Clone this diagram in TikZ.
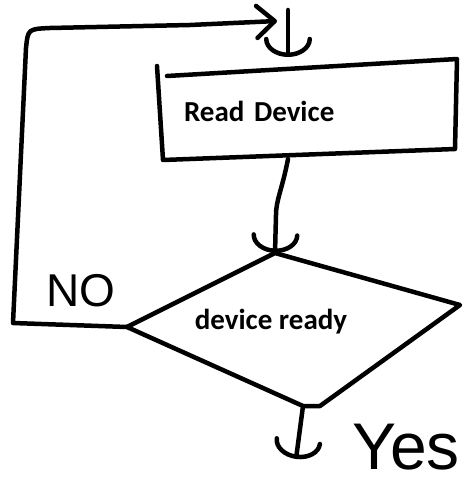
\documentclass[tikz,border=0pt]{standalone}
\usepackage{fontspec}
\setmainfont{Carlito}
\newfontfamily\handfont{Liberation Sans}
\usetikzlibrary{arrows.meta,calc}
\begin{document}
\begin{tikzpicture}[x=1pt,y=-1pt,
  stroke/.style={line width=4.5pt,line cap=round,line join=round},
  boxlabel/.style={font=\fontsize{29}{34}\selectfont\bfseries, inner sep=0pt},
  hand/.style={font=\handfont, inner sep=0pt},
  uarrow/.style={-{Arc Barb[length=18pt,width=48pt,round]}},
  vtip/.style={-{Straight Barb[length=18pt,width=32pt,round]}}
]
\useasboundingbox (0,0) rectangle (463,487);
% process box
\node[boxlabel, minimum width=298pt, minimum height=94pt, text width=246pt, align=left] (read) at (307,111) {Read Device};
\draw[stroke] (167,76) -- (457,59) -- (455,149) -- (163,160) -- (157,66);
% decision
\coordinate (dl) at (127,327);
\coordinate (dt) at (275,253);
\coordinate (dr) at (460,305);
\coordinate (db2) at (320,406);
\coordinate (db) at (303,406);
\draw[stroke] (dl) -- (dt) -- (dr) -- (db2) -- (db) -- cycle;
\node[boxlabel] (ready) at (271,322) {device ready};
% connector points
\coordinate (loopend) at (277,21);
\coordinate (topin) at (288,10);
\coordinate (readin) at (288,57);
\coordinate (rb) at (288,159);
\coordinate (yesout) at (296,459);
% loop (NO)
\draw[stroke, vtip] (dl) -- (13,323) -- (26,48) .. controls (28,29) .. (50,28) -- (190,25) -- (loopend);
\draw[stroke, uarrow] (topin) -- (readin);
% read -> decision
\draw[stroke, uarrow] (rb) .. controls (282,190) and (276,200) .. (276,215) -- (dt);
% yes exit
\draw[stroke, uarrow] (db) -- (yesout);
% labels
\node[hand, font=\handfont\fontsize{46}{50}\selectfont, anchor=base west] (no) at (46,306) {NO};
\node[hand, font=\handfont\fontsize{66}{70}\selectfont, anchor=base west] (yes) at (352,469) {Yes};
\end{tikzpicture}
\end{document}
